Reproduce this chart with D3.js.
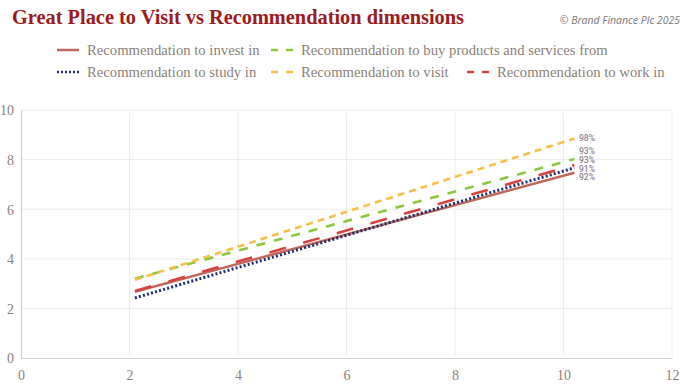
<!DOCTYPE html>
<html><head><meta charset="utf-8">
<script src="https://cdn.jsdelivr.net/npm/d3@7"></script>
<style>body{margin:0;background:#fff}svg{display:block}</style>
</head><body><svg id="c" width="687" height="387"></svg>
<script>
const seriesNames = ["Recommendation to invest in","Recommendation to buy products and services from","Recommendation to study in","Recommendation to visit","Recommendation to work in"];
const xStart = [2.1, 2.1, 2.1, 2.1, 2.1];
const xEnd = [10.2, 10.2, 10.2, 10.2, 10.2];
const yStart = [2.67, 3.2, 2.42, 3.15, 2.7];
const yEnd = [7.47, 8.02, 7.67, 8.85, 7.78];
const endLabels = ["92%","93%","91%","98%","93%"];
const labelOrder = [3,1,4,2,0];
const xTicks = [0,2,4,6,8,10,12];
const yTicks = [0,2,4,6,8,10];
const colors = ["#c0675a","#8cc63f","#1f2d6e","#f5c04a","#d94040"];
const dashes = [null,"9,9","2,2.2","7,5","17,18"];

const svg = d3.select("#c");
const x = d3.scaleLinear().domain([0,12]).range([21,672]);
const y = d3.scaleLinear().domain([0,10]).range([358,110]);
const serif = "'Liberation Serif', 'DejaVu Serif', serif";
const tc = "#8c7f78";

svg.append("text").attr("x",12).attr("y",24).attr("font-family",serif).attr("font-weight","bold")
  .attr("font-size",21.5).attr("fill","#9b1c1c").attr("textLength",452).attr("lengthAdjust","spacingAndGlyphs")
  .text("Great Place to Visit vs Recommendation dimensions");
svg.append("text").attr("x",680).attr("y",24).attr("text-anchor","end").attr("font-family","'Open Sans', sans-serif")
  .attr("font-style","italic").attr("font-size",10.5).attr("fill","#777").text("© Brand Finance Plc 2025");

// grid
const g = svg.append("g");
g.selectAll(".gx").data(xTicks.filter(d=>d>0)).join("line")
  .attr("x1",d=>x(d)).attr("x2",d=>x(d)).attr("y1",113).attr("y2",355).attr("stroke","#ececec");
g.selectAll(".gy").data(yTicks.filter(d=>d>0)).join("line")
  .attr("x1",x(0)).attr("x2",x(12)).attr("y1",d=>y(d)).attr("y2",d=>y(d)).attr("stroke","#ececec");

const xa = svg.append("g").attr("transform","translate(0,358)").call(d3.axisBottom(x).tickValues(xTicks).tickSize(0).tickPadding(12));
const ya = svg.append("g").attr("transform","translate(21,0)").call(d3.axisLeft(y).tickValues(yTicks).tickSize(0).tickPadding(7));
[xa,ya].forEach(a=>{a.select(".domain").attr("stroke","#cfcfcf").attr("stroke-width",1.2);
  a.selectAll("text").attr("font-family",serif).attr("font-size",14).attr("fill",tc);});
ya.selectAll("text").attr("dy","0.35em");

// lines
const line = d3.line().x(d=>x(d[0])).y(d=>y(d[1]));
const order = [0,2,4,1,3];
const widths = [2.5,2.6,3,2.6,2.6];
order.forEach(i=>{
  svg.append("path").attr("d",line([[xStart[i],yStart[i]],[xEnd[i],yEnd[i]]]))
    .attr("fill","none").attr("stroke",colors[i]).attr("stroke-width",widths[i])
    .attr("stroke-dasharray",dashes[i]);
});
// end labels
const labY = [138,151.5,160,169,177.5];
labelOrder.forEach((i,k)=>{
  svg.append("text").attr("x",579).attr("y",labY[k]).attr("dy","0.35em")
    .attr("font-family","'Roboto', sans-serif").attr("font-size",8.5).attr("font-weight",500).attr("fill","#858595").text(endLabels[i]);
});

// legend
const leg = [[0,57,50],[1,271,50],[2,57,72],[3,271,72],[4,467,72]];
leg.forEach(([i,lx,ly])=>{
  svg.append("line").attr("x1",lx).attr("x2",lx+22).attr("y1",ly).attr("y2",ly)
    .attr("stroke",colors[i]).attr("stroke-width",2.5).attr("stroke-dasharray",i===0?null:(i===2?"2,2":"7,8"));
  svg.append("text").attr("x",lx+30).attr("y",ly).attr("dy","0.35em").attr("font-family",serif)
    .attr("font-size",14.7).attr("fill",tc).text(seriesNames[i]);
});
</script></body></html>
